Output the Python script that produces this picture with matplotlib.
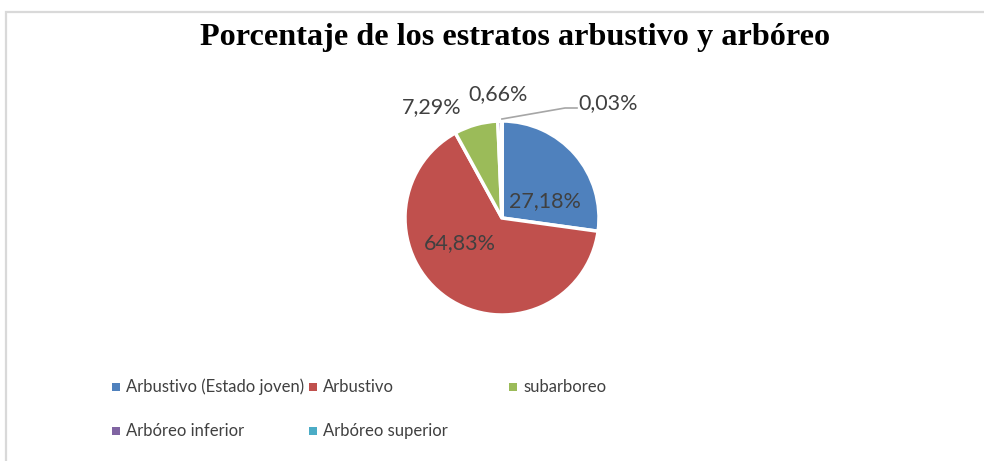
import matplotlib
matplotlib.use("Agg")
import matplotlib.pyplot as plt
from matplotlib.patches import Rectangle
import numpy as np

categories = ["Arbustivo (Estado joven)", "Arbustivo", "subarboreo",
              "Arbóreo inferior", "Arbóreo superior"]
values = [27.18, 64.83, 7.29, 0.66, 0.03]
colors = ["#4F81BD", "#C0504D", "#9BBB59", "#8064A2", "#4BACC6"]
title = "Porcentaje de los estratos arbustivo y arbóreo"

W, H = 984, 461
fig = plt.figure(figsize=(W / 100, H / 100), dpi=100)
fig.patch.set_facecolor("white")

# chart border
fig.add_artist(Rectangle((5.5 / W, -0.05), 1.1, 1 - 12.5 / H + 0.05,
                         transform=fig.transFigure, fill=False,
                         edgecolor="#D9D9D9", linewidth=1.6))

fig.text(515 / W, 1 - 37 / H, title, ha="center", va="center",
         family="Liberation Serif", weight="bold", fontsize=23.2, color="black")

cx, cy = 502, 218
half = 200
ax = fig.add_axes([(cx - half) / W, (H - cy - half) / H, 2 * half / W, 2 * half / H])

wedges, _ = ax.pie(values, colors=colors, startangle=90, counterclock=False,
                   radius=0.97, center=(0, 0),
                   wedgeprops=dict(edgecolor="white", linewidth=2.5))
ax.set_xlim(-2, 2)
ax.set_ylim(-2, 2)
ax.set_aspect("equal")
ax.axis("off")
for w in wedges:
    w.set_clip_on(False)

lab_font = dict(family="Lato", fontsize=15.5, color="#404040",
                ha="center", va="center")
labels = [f"{v:.2f}%".replace(".", ",") for v in values]
label_pos = [(0.43, 0.17), (-0.42, -0.25), (-0.70, 1.11), (-0.04, 1.24), (1.06, 1.15)]
for lab, (lx, ly) in zip(labels, label_pos):
    ax.text(lx, ly, lab, **lab_font)

# leader line for the smallest slice
w = wedges[4]
ang = np.deg2rad((w.theta1 + w.theta2) / 2)
sx, sy = 0.99 * np.cos(ang), 0.99 * np.sin(ang)
ax.plot([sx, 0.63, 0.75], [sy, 1.10, 1.10], color="#A6A6A6", lw=1.2,
        clip_on=False)

# legend (manual layout)
slots = [(112, 387), (309, 387), (509, 387), (112, 431), (309, 431)]
for (mx, my), cat, col in zip(slots, categories, colors):
    fig.add_artist(Rectangle((mx / W, 1 - (my + 4) / H), 8 / W, 8 / H,
                             transform=fig.transFigure, facecolor=col,
                             edgecolor="none"))
    fig.text((mx + 14) / W, 1 - my / H, cat, ha="left", va="center",
             family="Lato", fontsize=12, color="#404040")

fig.savefig("out.png", dpi=100, facecolor="white")
